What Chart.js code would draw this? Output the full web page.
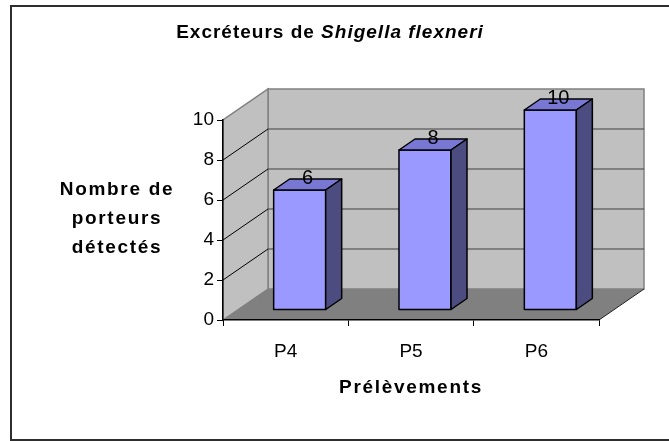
<!DOCTYPE html>
<html>
<head>
<meta charset="utf-8">
<script src="https://cdn.jsdelivr.net/npm/chart.js@4.4.1/dist/chart.umd.min.js"></script>
<style>
  html, body { margin: 0; padding: 0; background: #fff; }
  canvas { display: block; }
</style>
</head>
<body>
<canvas id="chart" width="669" height="441"></canvas>
<script>
// données
const categories = ['P4', 'P5', 'P6'];
const porteurs = [6, 8, 10];
const yTickValues = [0, 2, 4, 6, 8, 10];

const FONT = '"Liberation Sans", Arial, sans-serif';

// profondeur 3D (murs et barres)
const WALL_DX = 45, WALL_DY = 31;
const BAR_SHIFT_X = 14, BAR_SHIFT_Y = 10;
const BAR_DX = 16, BAR_DY = 11;

function poly(ctx, pts) {
    ctx.beginPath();
    ctx.moveTo(pts[0][0], pts[0][1]);
    for (let i = 1; i < pts.length; i++) ctx.lineTo(pts[i][0], pts[i][1]);
    ctx.closePath();
}

// cadre, murs, sol et quadrillage
const walls3d = {
    id: 'walls3d',
    beforeDraw(chart) {
        const { ctx, chartArea: a, scales: { y } } = chart;
        ctx.save();
        ctx.strokeStyle = '#2e2e2e';
        ctx.lineWidth = 2;
        ctx.strokeRect(11, 6, 720, 434);

        const L = a.left, R = a.right, T = a.top, B = a.bottom;
        // mur du fond
        poly(ctx, [[L + WALL_DX, T - WALL_DY], [R + WALL_DX, T - WALL_DY], [R + WALL_DX, B - WALL_DY], [L + WALL_DX, B - WALL_DY]]);
        ctx.fillStyle = '#C0C0C0';
        ctx.fill();
        ctx.strokeStyle = '#808080';
        ctx.lineWidth = 1.5;
        ctx.stroke();
        // mur gauche
        poly(ctx, [[L, B], [L, T], [L + WALL_DX, T - WALL_DY], [L + WALL_DX, B - WALL_DY]]);
        ctx.fill();
        ctx.stroke();
        // sol
        poly(ctx, [[L, B], [R, B], [R + WALL_DX, B - WALL_DY], [L + WALL_DX, B - WALL_DY]]);
        ctx.fillStyle = '#808080';
        ctx.fill();
        ctx.strokeStyle = '#202020';
        ctx.lineWidth = 1;
        ctx.beginPath();
        ctx.moveTo(R, B);
        ctx.lineTo(R + WALL_DX, B - WALL_DY);
        ctx.stroke();

        // quadrillage
        yTickValues.forEach(v => {
            if (v === y.min || v === y.max) return;
            const yy = y.getPixelForValue(v);
            ctx.strokeStyle = '#000';
            ctx.lineWidth = 1;
            ctx.beginPath();
            ctx.moveTo(L, yy);
            ctx.lineTo(L + WALL_DX, yy - WALL_DY);
            ctx.stroke();
            ctx.strokeStyle = '#404040';
            ctx.beginPath();
            ctx.moveTo(L + WALL_DX, yy - WALL_DY);
            ctx.lineTo(R + WALL_DX, yy - WALL_DY);
            ctx.stroke();
        });
        ctx.restore();
    },
    afterDatasetsDraw(chart) {
        const { ctx } = chart;
        const meta = chart.getDatasetMeta(0);
        ctx.save();
        ctx.lineWidth = 1.5;
        ctx.lineJoin = 'round';
        ctx.strokeStyle = '#000';
        meta.data.forEach((bar, i) => {
            const w = bar.width;
            const l = bar.x - w / 2 + BAR_SHIFT_X, r = l + w;
            const t = bar.y - BAR_SHIFT_Y, b = bar.base - BAR_SHIFT_Y;
            poly(ctx, [[l, t], [r, t], [r, b], [l, b]]);
            ctx.fillStyle = '#9999FF';
            ctx.fill(); ctx.stroke();
            poly(ctx, [[l, t], [r, t], [r + BAR_DX, t - BAR_DY], [l + BAR_DX, t - BAR_DY]]);
            ctx.fillStyle = '#7878D4';
            ctx.fill(); ctx.stroke();
            poly(ctx, [[r, t], [r, b], [r + BAR_DX, b - BAR_DY], [r + BAR_DX, t - BAR_DY]]);
            ctx.fillStyle = '#4C4C80';
            ctx.fill(); ctx.stroke();

            ctx.fillStyle = '#000';
            ctx.font = '20px ' + FONT;
            ctx.textAlign = 'center';
            ctx.textBaseline = 'middle';
            ctx.fillText(String(porteurs[i]), (l + r) / 2 + BAR_DX / 2, t - BAR_DY - 1);
        });
        ctx.restore();
    },
    afterDraw(chart) {
        const { ctx, chartArea: a } = chart;
        ctx.save();
        ctx.fillStyle = '#000';
        ctx.textBaseline = 'middle';
        ctx.letterSpacing = '1px';

        // titre : partie droite en italique
        const t1 = 'Excréteurs de ', t2 = 'Shigella flexneri';
        ctx.font = 'bold 19px ' + FONT;
        const w1 = ctx.measureText(t1).width;
        ctx.font = 'italic bold 19px ' + FONT;
        const w2 = ctx.measureText(t2).width;
        const x0 = 330 - (w1 + w2) / 2;
        ctx.textAlign = 'left';
        ctx.font = 'bold 19px ' + FONT;
        ctx.fillText(t1, x0, 33);
        ctx.font = 'italic bold 19px ' + FONT;
        ctx.fillText(t2, x0 + w1, 33);

        ctx.letterSpacing = '1.7px';
        ctx.font = 'bold 19px ' + FONT;
        ctx.textAlign = 'center';
        ['Nombre de', 'porteurs', 'détectés'].forEach((s, i) => {
            ctx.fillText(s, 117, 190 + i * 29);
        });
        ctx.fillText('Prélèvements', (a.left + a.right) / 2, 388);
        ctx.restore();
    }
};

new Chart(document.getElementById('chart'), {
    type: 'bar',
    data: {
        labels: categories,
        datasets: [{
            label: 'Nombre de porteurs détectés',
            data: porteurs,
            backgroundColor: 'rgba(0,0,0,0)',
            borderWidth: 0,
            categoryPercentage: 1,
            barPercentage: 0.415
        }]
    },
    options: {
        responsive: false,
        devicePixelRatio: 1,
        animation: false,
        layout: { padding: { top: 120, right: 70, bottom: 0, left: 0 } },
        plugins: {
            legend: { display: false },
            tooltip: { enabled: false }
        },
        scales: {
            x: {
                grid: { offset: true, drawOnChartArea: false, tickLength: 6, color: '#000' },
                border: { color: '#000', width: 1.5 },
                ticks: { color: '#000', font: { family: FONT, size: 19 }, padding: 14 },
                afterFit: s => { s.height = 121; }
            },
            y: {
                min: 0,
                max: 10,
                grid: { drawOnChartArea: false, tickLength: 6, color: '#000' },
                border: { color: '#000', width: 1.5 },
                ticks: { color: '#000', font: { family: FONT, size: 19 }, padding: 3 },
                afterBuildTicks: s => { s.ticks = yTickValues.map(v => ({ value: v })); },
                afterFit: s => { s.width = 223; }
            }
        }
    },
    plugins: [walls3d]
});
</script>
</body>
</html>
